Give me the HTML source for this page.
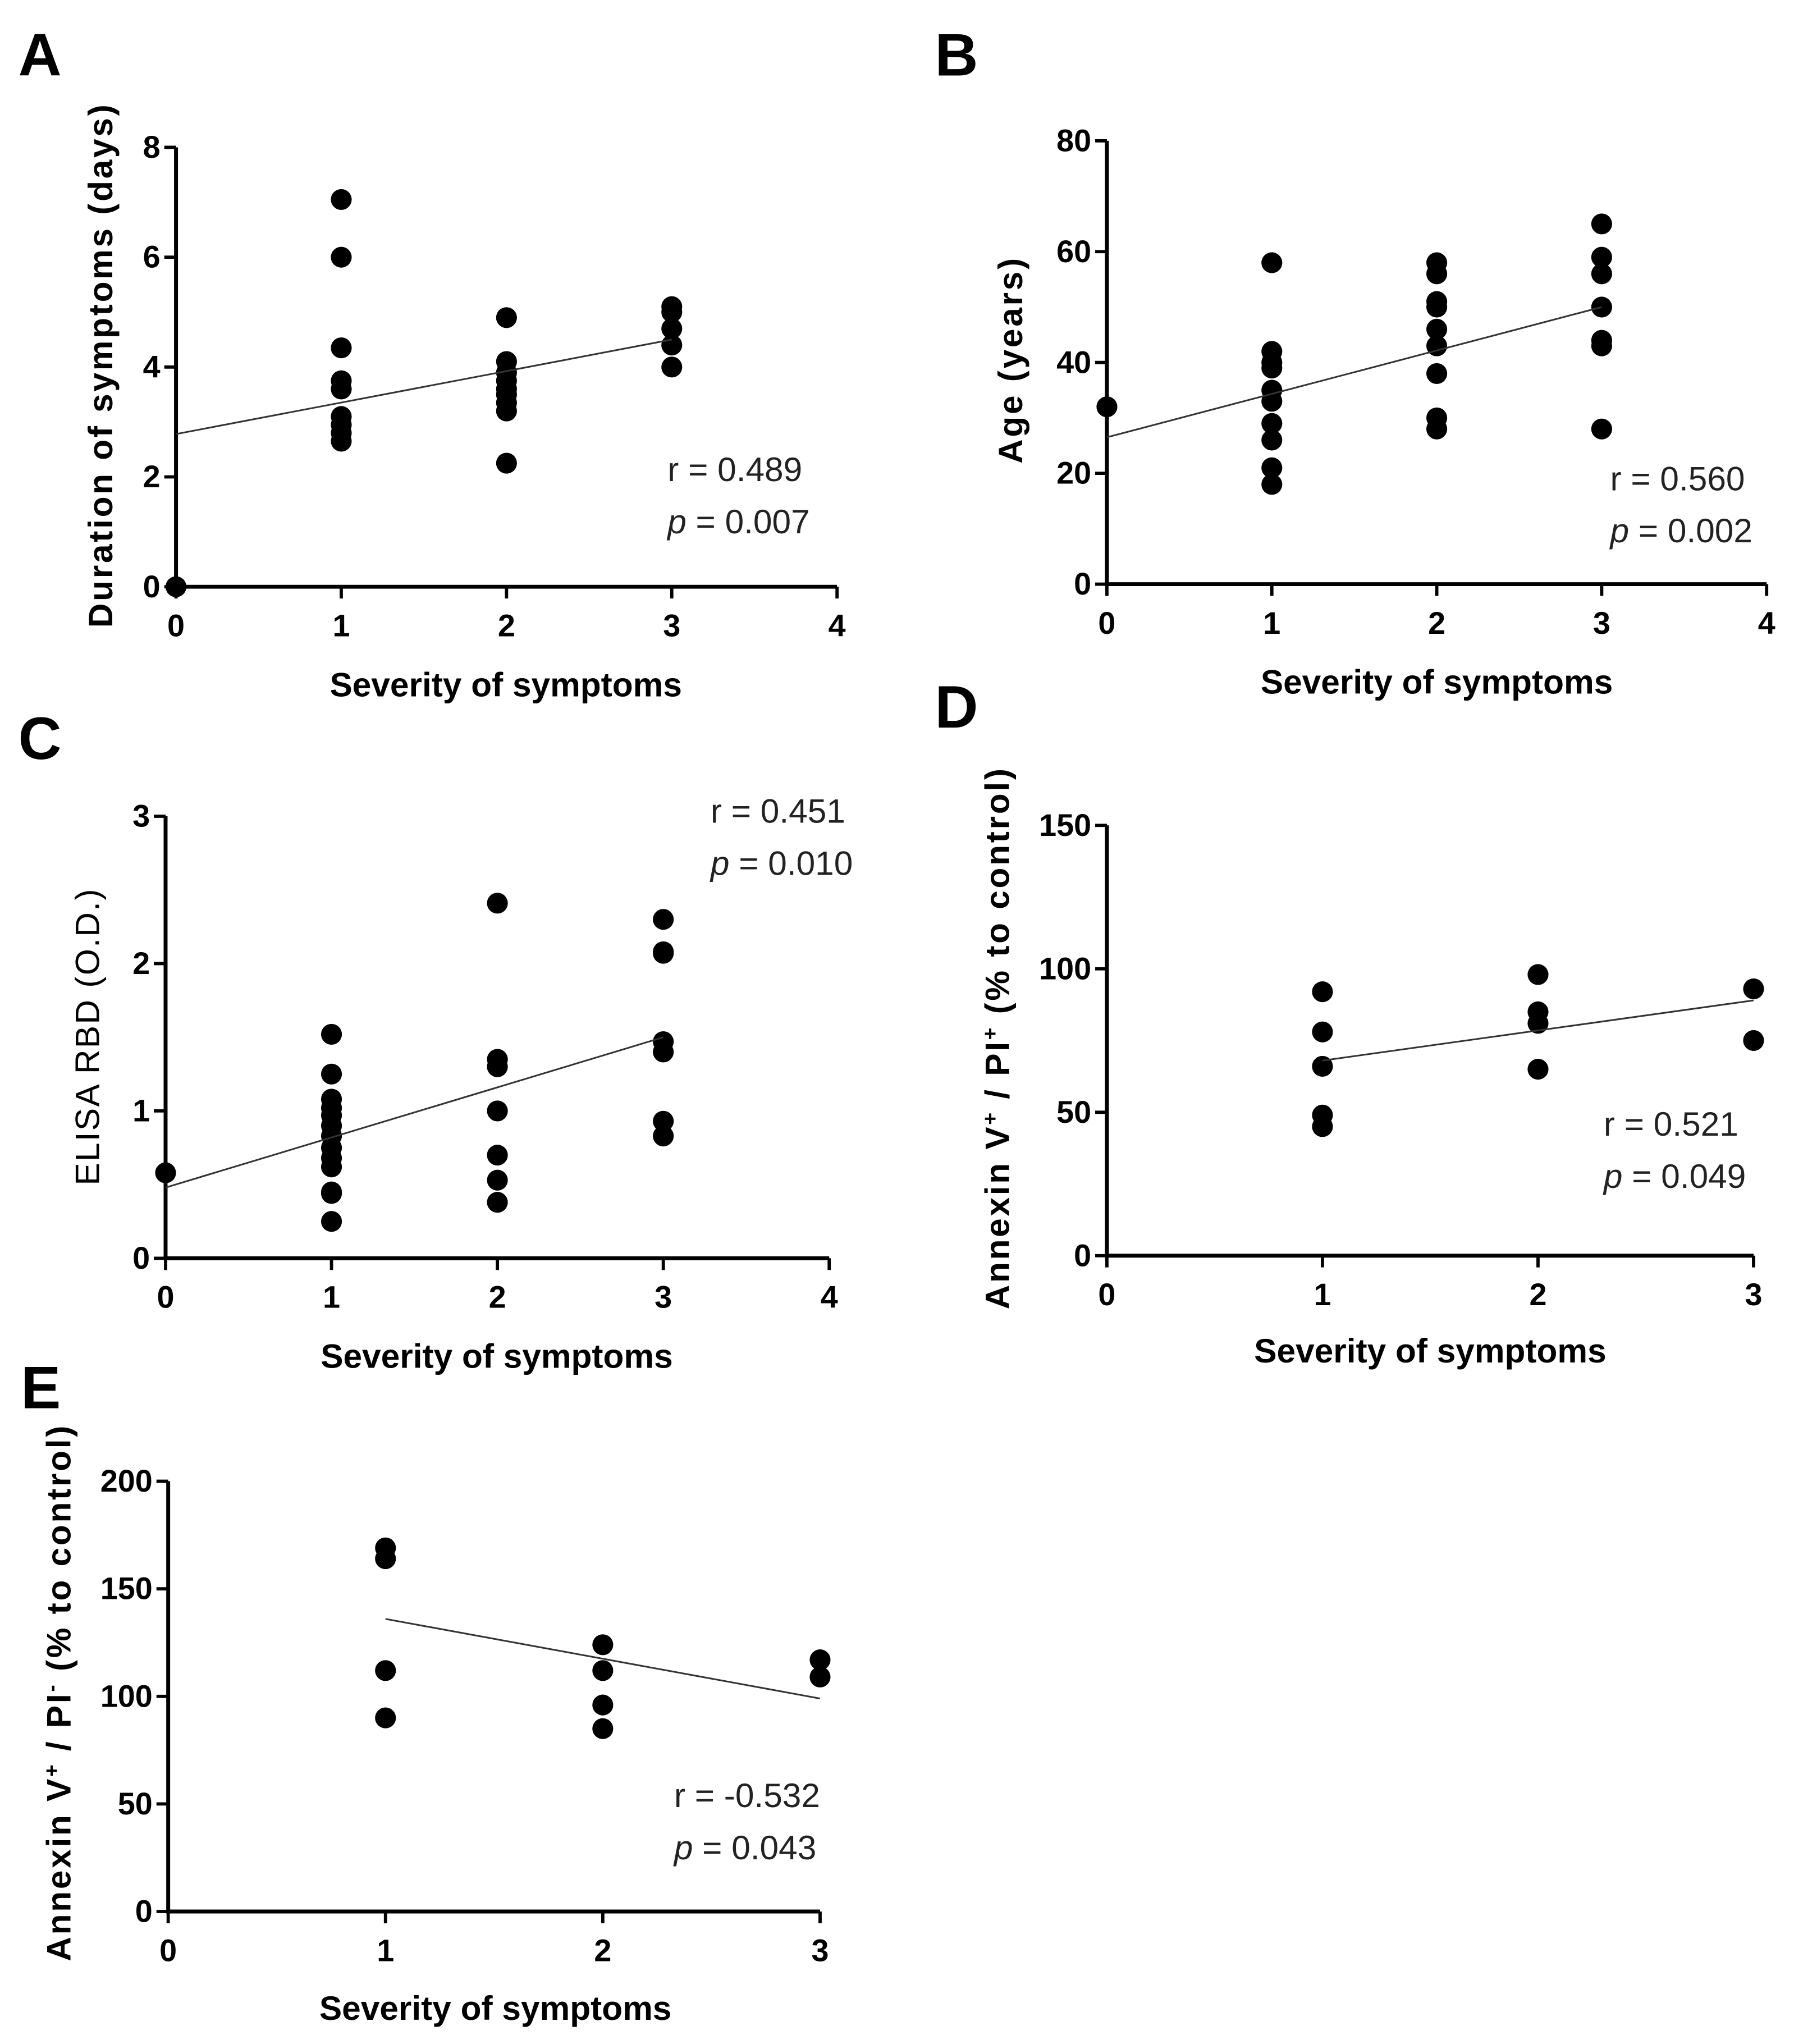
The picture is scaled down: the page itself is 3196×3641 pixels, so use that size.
<!DOCTYPE html>
<html><head><meta charset="utf-8"><style>
html,body{margin:0;padding:0;background:#fff;}
svg{display:block;}
.tick{font-family:"Liberation Sans Narrow","Liberation Sans",sans-serif;font-weight:bold;font-size:24px;fill:#000;}
.axt{font-family:"Liberation Sans Narrow","Liberation Sans",sans-serif;font-weight:bold;font-size:26px;fill:#000;}
.ylab{font-family:"Liberation Sans",sans-serif;font-weight:bold;font-size:26px;letter-spacing:1.6px;fill:#000;}
.ylabc{font-family:"Liberation Sans",sans-serif;font-weight:normal;font-size:26px;letter-spacing:1px;fill:#000;}
.stat{font-family:"Liberation Sans Narrow","Liberation Sans",sans-serif;font-size:26px;fill:#222;}
.panel{font-family:"Liberation Sans",sans-serif;font-weight:bold;font-size:46px;fill:#000;}
</style></head><body>
<svg id="fig" width="3196" height="3641" viewBox="0 0 1376 1567.6" xmlns="http://www.w3.org/2000/svg"></svg>
<script>
// Panel A data
const aX = [0, 1,1,1,1,1,1,1,1,1, 2,2,2,2,2,2,2,2,2, 3,3,3,3,3];
const aY = [0, 7.05,6.0,4.35,3.75,3.6,3.1,2.95,2.8,2.65, 4.9,4.1,3.9,3.75,3.6,3.5,3.35,3.2,2.25, 5.1,5.0,4.7,4.4,4.0];
const aFit = [2.78, 4.5];
const aYTicks = [0,2,4,6,8];
const aXTicks = [0,1,2,3,4];
// Panel B data
const bX = [0, 1,1,1,1,1,1,1,1,1,1, 2,2,2,2,2,2,2,2,2, 3,3,3,3,3,3,3];
const bY = [32, 58,42,40,39,35,33,29,26,21,18, 58,56,51,50,46,43,38,30,28, 65,59,56,50,44,43,28];
const bFit = [26.5, 50];
const bYTicks = [0,20,40,60,80];
const bXTicks = [0,1,2,3,4];
// Panel C data
const cX = [0, 1,1,1,1,1,1,1,1,1,1,1,1,1, 2,2,2,2,2,2,2, 3,3,3,3,3,3,3];
const cY = [0.58, 1.52,1.25,1.08,1.02,0.97,0.9,0.83,0.75,0.68,0.62,0.45,0.44,0.25, 2.41,1.35,1.3,1.0,0.7,0.53,0.38, 2.3,2.08,2.07,1.47,1.4,0.93,0.83];
const cFit = [0.48, 1.5];
const cYTicks = [0,1,2,3];
const cXTicks = [0,1,2,3,4];
// Panel D data
const dX = [1,1,1,1,1, 2,2,2,2, 3,3];
const dY = [92,78,66,49,45, 98,85,81,65, 93,75];
const dFit = [68, 89];
const dYTicks = [0,50,100,150];
const dXTicks = [0,1,2,3];
// Panel E data
const eX = [1,1,1,1, 2,2,2,2, 3,3];
const eY = [169,164,112,90, 124,112,96,85, 117,109];
const eFit = [136, 99];
const eYTicks = [0,50,100,150,200];
const eXTicks = [0,1,2,3];

const NS = "http://www.w3.org/2000/svg";
const svg = document.getElementById('fig');
function mk(tag, attrs, parent, text){
  const e = document.createElementNS(NS, tag);
  for (const k in attrs) e.setAttribute(k, attrs[k]);
  if (text !== undefined) e.textContent = text;
  (parent||svg).appendChild(e);
  return e;
}
function panel(p){
  const g = mk('g', {});
  
  
  const sx = v => p.x0 + (v - p.xt[0]) / (p.xt[p.xt.length-1] - p.xt[0]) * (p.x1 - p.x0);
  const sy = v => p.y0 - (v - p.yt[0]) / (p.yt[p.yt.length-1] - p.yt[0]) * (p.y0 - p.y1);
  const lt = mk('text', {x:p.lx, y:p.ly, class:'panel'}, g, p.id.toUpperCase());
  
  
  const ya = mk('line', {x1:p.x0, y1:p.y0+1.5, x2:p.x0, y2:p.y1, stroke:'#000', 'stroke-width':3}, g);
  
  
  const xa = mk('line', {x1:p.x0-1.5, y1:p.y0, x2:p.x1, y2:p.y0, stroke:'#000', 'stroke-width':3}, g);
  
  
  p.yt.forEach(v => {
    const y = sy(v);
    mk('line', {x1:p.x0-9, y1:y, x2:p.x0, y2:y, stroke:'#000', 'stroke-width':2.5}, g);
    const t = mk('text', {x:p.x0-12, y:y+8, 'text-anchor':'end', class:'tick'}, g, String(v));
    
    
  });
  p.xt.forEach(v => {
    const x = sx(v);
    mk('line', {x1:x, y1:p.y0, x2:x, y2:p.y0+9, stroke:'#000', 'stroke-width':2.5}, g);
    const t = mk('text', {x:x, y:p.y0+38, 'text-anchor':'middle', class:'tick'}, g, String(v));
    
    
  });
  p.xs.forEach((xv, i) => {
    const c = mk('circle', {cx:sx(xv), cy:sy(p.ys[i]), r:8, fill:'#000'}, g);
    
    
  });
  const fl = mk('line', {x1:sx(p.fx[0]), y1:sy(p.fit[0]), x2:sx(p.fx[1]), y2:sy(p.fit[1]), stroke:'#333', 'stroke-width':1.3}, g);
  
  
  const xt = mk('text', {x:p.xtx, y:p.xty, 'text-anchor':'middle', class:'axt'}, g, 'Severity of symptoms');
  
  
  const yt = mk('text', {x:0, y:0, 'text-anchor':'middle', class:p.ycls||'ylab', transform:'translate('+p.ytx+','+p.yty+') rotate(-90)'}, g);
  
  
  yt.innerHTML = p.ytitle;
  const r = mk('text', {x:p.sx, y:p.sy, class:'stat'}, g, p.r);
  
  
  const pv = mk('text', {x:p.sx, y:p.sy+40, class:'stat'}, g);
  
  
  pv.innerHTML = '<tspan font-style="italic">p</tspan> = ' + p.p;
}
panel({id:'a', lx:14, ly:58, x0:135, x1:642, y0:450, y1:113, xt:aXTicks, yt:aYTicks, xs:aX, ys:aY, fit:aFit, fx:[0,3],
  xtx:388, xty:534, ytx:86, yty:280, ytitle:'Duration of symptoms (days)', ycls:'ylab', r:'r = 0.489', p:'0.007', sx:512, sy:369});
panel({id:'b', lx:717, ly:58, x0:849, x1:1355, y0:448, y1:108, xt:bXTicks, yt:bYTicks, xs:bX, ys:bY, fit:bFit, fx:[0,3],
  xtx:1102, xty:532, ytx:784, yty:276, ytitle:'Age (years)', r:'r = 0.560', p:'0.002', sx:1235, sy:376});
panel({id:'c', lx:14, ly:582, x0:127, x1:636, y0:965, y1:626, xt:cXTicks, yt:cYTicks, xs:cX, ys:cY, fit:cFit, fx:[0,3],
  xtx:381, xty:1049, ytx:76, yty:795, ytitle:'ELISA RBD (O.D.)', ycls:'ylabc', r:'r = 0.451', p:'0.010', sx:545, sy:631});
panel({id:'d', lx:717, ly:558, x0:849, x1:1345, y0:963, y1:633, xt:dXTicks, yt:dYTicks, xs:dX, ys:dY, fit:dFit, fx:[1,3],
  xtx:1097, xty:1045, ytx:774, yty:796, ytitle:'Annexin V<tspan baseline-shift="super" font-size="16">+</tspan> / PI<tspan baseline-shift="super" font-size="16">+</tspan> (% to control)', r:'r = 0.521', p:'0.049', sx:1230, sy:871});
panel({id:'e', lx:16, ly:1080, x0:129, x1:629, y0:1466, y1:1136, xt:eXTicks, yt:eYTicks, xs:eX, ys:eY, fit:eFit, fx:[1,3],
  xtx:380, xty:1549, ytx:54, yty:1298, ytitle:'Annexin V<tspan baseline-shift="super" font-size="16">+</tspan> / PI<tspan baseline-shift="super" font-size="16">-</tspan> (% to control)', r:'r = -0.532', p:'0.043', sx:517, sy:1386});
</script>
</body></html>
